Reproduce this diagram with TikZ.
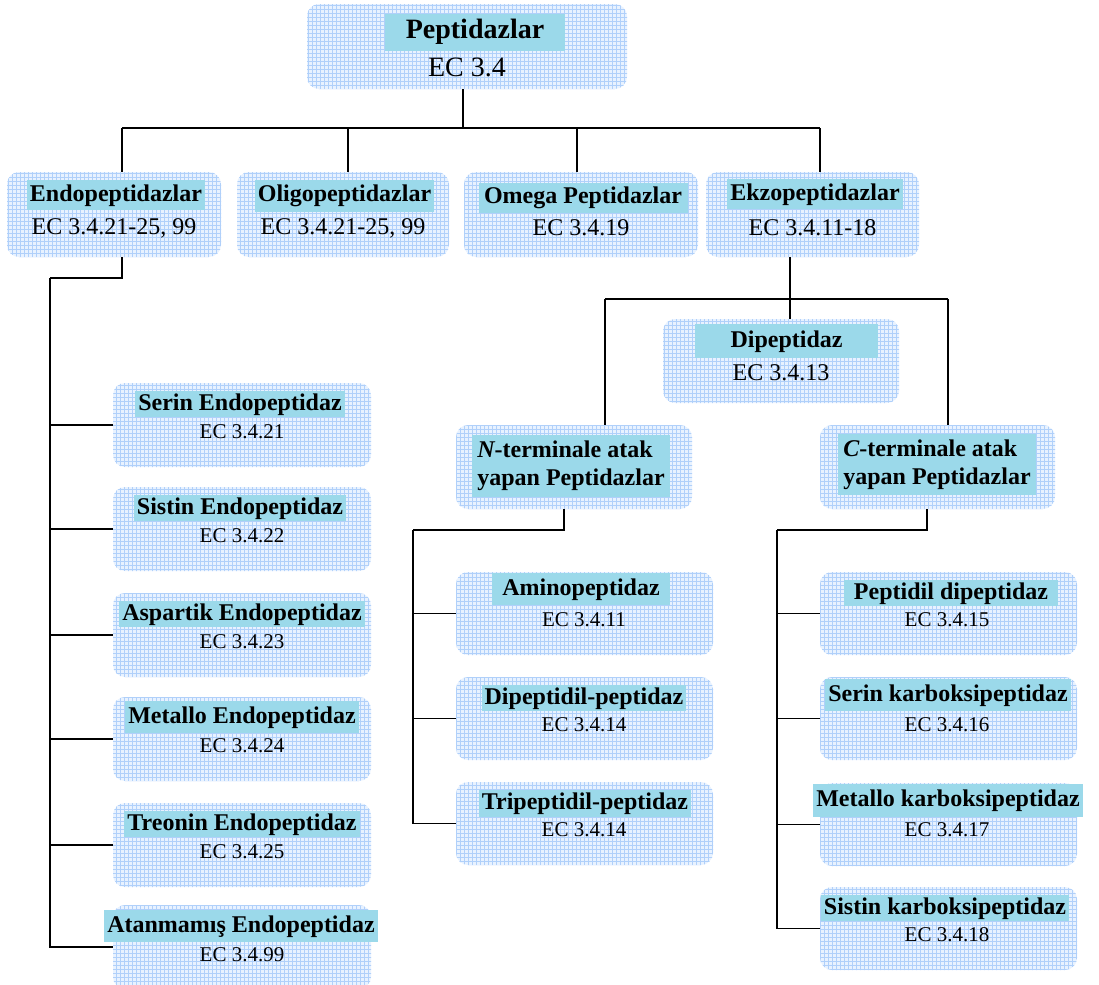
\documentclass[tikz,border=0pt]{standalone}
\usepackage{fontspec}
\setmainfont{Liberation Serif}
\usepackage{tikz}
\usetikzlibrary{patterns.meta}

\definecolor{boxbg}{RGB}{232,242,255}
\definecolor{gridblue}{RGB}{176,208,250}
\definecolor{hlblue}{RGB}{155,217,234}

\tikzset{
  kutu/.style={rounded corners=6pt, fill=boxbg, inner sep=0pt,
    postaction={pattern={Hatch[angle=0,distance=2pt,line width=0.3pt]}, pattern color=gridblue}},
  titolo/.style={fill=hlblue, font=\bfseries\fontsize{12}{14}\selectfont,
    inner xsep=1.5pt, inner ysep=1pt, text height=8.6pt, text depth=2.6pt},
  titolo2/.style={fill=hlblue, font=\bfseries\fontsize{12}{14}\selectfont,
    align=left, inner xsep=2.5pt, inner ysep=3pt},
  ec/.style={font=\fontsize{10.5}{12}\selectfont, inner sep=1pt},
  ecbig/.style={font=\fontsize{12}{14}\selectfont, inner sep=1pt},
  hat/.style={line width=0.7pt}
}

\begin{document}
\begin{tikzpicture}[x=0.5pt,y=-0.5pt]
  \useasboundingbox (0,0) rectangle (1099,985);

  % ana kutu
  \node[kutu, minimum width=160pt, minimum height=42.5pt] (peptidazlar) at (467,46.5) {};
  \node[titolo, font=\bfseries\fontsize{14}{16}\selectfont, minimum width=90pt, minimum height=18.5pt] (peptidazlar-t) at (475,32.5) {Peptidazlar};
  \node[ecbig, font=\fontsize{14}{16}\selectfont] (peptidazlar-ec) at (467,67) {EC 3.4};

  % ikinci sira
  \node[kutu, minimum width=107pt, minimum height=42.5pt] (endo) at (114,214.5) {};
  \node[titolo, minimum height=15pt] (endo-t) at (116,195) {Endopeptidazlar};
  \node[ecbig] (endo-ec) at (114,228) {EC 3.4.21-25, 99};

  \node[kutu, minimum width=106pt, minimum height=42.5pt] (oligo) at (343,214.5) {};
  \node[titolo, minimum height=16pt] (oligo-t) at (344.5,195.5) {Oligopeptidazlar};
  \node[ecbig] (oligo-ec) at (343,228) {EC 3.4.21-25, 99};

  \node[kutu, minimum width=117pt, minimum height=42.5pt] (omega) at (581,214.5) {};
  \node[titolo, minimum height=15pt, minimum width=104.5pt] (omega-t) at (583,197.5) {Omega Peptidazlar};
  \node[ecbig] (omega-ec) at (581,228) {EC 3.4.19};

  \node[kutu, minimum width=106.5pt, minimum height=42.5pt] (ekzo) at (812.5,214.5) {};
  \node[titolo, minimum height=15pt] (ekzo-t) at (815,194) {Ekzopeptidazlar};
  \node[ecbig] (ekzo-ec) at (812.5,228) {EC 3.4.11-18};

  % ekzopeptidazlar alt dallari
  \node[kutu, minimum width=118pt, minimum height=42pt] (dipep) at (781,361) {};
  \node[titolo, minimum width=91.5pt, minimum height=17pt] (dipep-t) at (786.5,341) {Dipeptidaz};
  \node[ecbig] (dipep-ec) at (781,373) {EC 3.4.13};

  \node[kutu, minimum width=118pt, minimum height=42pt] (nterm) at (574,467) {};
  \node[titolo2] (nterm-t) at (571,466) {{\itshape N}-terminale atak\\yapan Peptidazlar};

  \node[kutu, minimum width=117.5pt, minimum height=42pt] (cterm) at (937.5,467) {};
  \node[titolo2] (cterm-t) at (937,464.5) {{\itshape C}-terminale atak\\yapan Peptidazlar};

  % endopeptidazlar
  \node[kutu, minimum width=129pt, minimum height=42pt] (serin) at (242,425) {};
  \node[titolo] (serin-t) at (240,404) {Serin Endopeptidaz};
  \node[ec] (serin-ec) at (242,432) {EC 3.4.21};

  \node[kutu, minimum width=129pt, minimum height=42pt] (sistin) at (242,529) {};
  \node[titolo] (sistin-t) at (240,508) {Sistin Endopeptidaz};
  \node[ec] (sistin-ec) at (242,536) {EC 3.4.22};

  \node[kutu, minimum width=129pt, minimum height=42pt] (aspartik) at (242,635) {};
  \node[titolo] (aspartik-t) at (242,614) {Aspartik Endopeptidaz};
  \node[ec] (aspartik-ec) at (242,642) {EC 3.4.23};

  \node[kutu, minimum width=129pt, minimum height=42pt] (metallo) at (242,739) {};
  \node[titolo, minimum height=16pt] (metallo-t) at (242,717) {Metallo Endopeptidaz};
  \node[ec] (metallo-ec) at (242,746) {EC 3.4.24};

  \node[kutu, minimum width=129pt, minimum height=42pt] (treonin) at (242,845) {};
  \node[titolo] (treonin-t) at (242,824) {Treonin Endopeptidaz};
  \node[ec] (treonin-ec) at (242,852) {EC 3.4.25};

  \node[kutu, minimum width=129pt, minimum height=42pt] (atanmamis) at (242,947) {};
  \node[titolo, minimum height=16pt] (atanmamis-t) at (241,926) {Atanmamış Endopeptidaz};
  \node[ec] (atanmamis-ec) at (242,955) {EC 3.4.99};

  % N-terminal
  \node[kutu, minimum width=128.5pt, minimum height=41.5pt] (amino) at (584.5,613.5) {};
  \node[titolo, minimum width=89pt, minimum height=16pt] (amino-t) at (581,589) {Aminopeptidaz};
  \node[ec] (amino-ec) at (584,620) {EC 3.4.11};

  \node[kutu, minimum width=128.5pt, minimum height=41.5pt] (dipeptidil) at (584.5,718.5) {};
  \node[titolo] (dipeptidil-t) at (584,698) {Dipeptidil-peptidaz};
  \node[ec] (dipeptidil-ec) at (584,725) {EC 3.4.14};

  \node[kutu, minimum width=128.5pt, minimum height=41.5pt] (tripeptidil) at (584.5,823.5) {};
  \node[titolo] (tripeptidil-t) at (585,803.5) {Tripeptidil-peptidaz};
  \node[ec] (tripeptidil-ec) at (584,830) {EC 3.4.14};

  % C-terminal
  \node[kutu, minimum width=128.5pt, minimum height=41.5pt] (peptidil) at (948.5,613.5) {};
  \node[titolo, minimum width=107pt] (peptidil-t) at (951,593) {Peptidil dipeptidaz};
  \node[ec] (peptidil-ec) at (947,620) {EC 3.4.15};

  \node[kutu, minimum width=128.5pt, minimum height=41.5pt] (serinK) at (948.5,718.5) {};
  \node[titolo, minimum height=16pt] (serinK-t) at (948,695) {Serin karboksipeptidaz};
  \node[ec] (serinK-ec) at (947,725) {EC 3.4.16};

  \node[kutu, minimum width=128.5pt, minimum height=41.5pt] (metalloK) at (948.5,824.5) {};
  \node[titolo, minimum height=16.5pt] (metalloK-t) at (948,800) {Metallo karboksipeptidaz};
  \node[ec] (metalloK-ec) at (947,830) {EC 3.4.17};

  \node[kutu, minimum width=128.5pt, minimum height=41.5pt] (sistinK) at (948.5,928.5) {};
  \node[titolo] (sistinK-t) at (945,908) {Sistin karboksipeptidaz};
  \node[ec] (sistinK-ec) at (947,935) {EC 3.4.18};

  % ust baglantilar
  \coordinate (anaJ) at (463,128);
  \coordinate (j1) at (122,128);
  \coordinate (j2) at (348,128);
  \coordinate (j3) at (577,128);
  \coordinate (j4) at (820,128);
  \draw[hat] (peptidazlar.south -| anaJ) -- (anaJ);
  \draw[hat] (j1) -- (j4);
  \draw[hat] (j1) -- (j1 |- endo.north);
  \draw[hat] (j2) -- (j2 |- oligo.north);
  \draw[hat] (j3) -- (j3 |- omega.north);
  \draw[hat] (j4) -- (j4 |- ekzo.north);

  % endopeptidaz dallari
  \coordinate (endoA) at (122,278);
  \coordinate (endoB) at (50,278);
  \draw[hat] (endoA |- endo.south) -- (endoA) -- (endoB);
  \draw[hat] (endoB) |- (serin.west);
  \draw[hat] (endoB) |- (sistin.west);
  \draw[hat] (endoB) |- (aspartik.west);
  \draw[hat] (endoB) |- (metallo.west);
  \draw[hat] (endoB) |- (treonin.west);
  \draw[hat] (endoB) |- (atanmamis.west);

  % ekzopeptidaz dallari
  \coordinate (ekzoA) at (790,299);
  \coordinate (nJ) at (605,299);
  \coordinate (cJ) at (948,299);
  \draw[hat] (ekzoA |- ekzo.south) -- (ekzoA |- dipep.north);
  \draw[hat] (nJ) -- (cJ);
  \draw[hat] (nJ) -- (nJ |- nterm.north);
  \draw[hat] (cJ) -- (cJ |- cterm.north);

  % N-terminal dallari
  \coordinate (nA) at (564,530);
  \coordinate (nB) at (413,530);
  \draw[hat] (nA |- nterm.south) -- (nA) -- (nB);
  \draw[hat] (nB) |- (amino.west);
  \draw[hat] (nB) |- (dipeptidil.west);
  \draw[hat] (nB) |- (tripeptidil.west);

  % C-terminal dallari
  \coordinate (cA) at (927,530);
  \coordinate (cB) at (777,530);
  \draw[hat] (cA |- cterm.south) -- (cA) -- (cB);
  \draw[hat] (cB) |- (peptidil.west);
  \draw[hat] (cB) |- (serinK.west);
  \draw[hat] (cB) |- (metalloK.west);
  \draw[hat] (cB) |- (sistinK.west);
\end{tikzpicture}
\end{document}
